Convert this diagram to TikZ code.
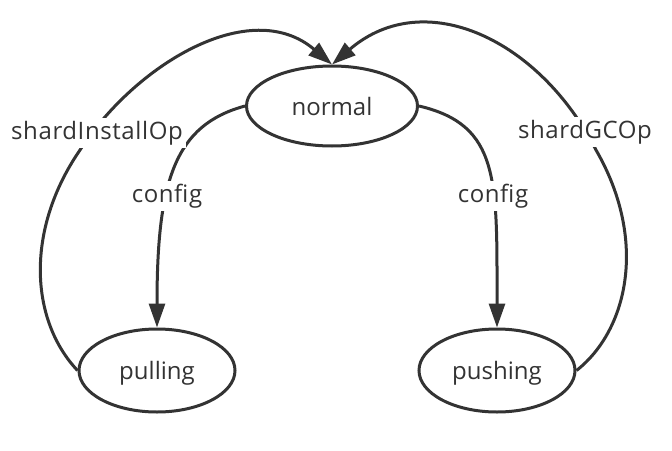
\documentclass[tikz,border=0pt]{standalone}
\usepackage{fontspec}
\setmainfont{Open Sans}
\usetikzlibrary{shapes.geometric,arrows.meta}
\definecolor{ink}{HTML}{333333}
\tikzset{
  state/.style={ellipse, draw=ink, line width=3pt, inner sep=0pt, text=ink,
    font=\fontsize{24}{28}\selectfont, text height=18pt, text depth=0pt},
  lbl/.style={fill=white, text=ink, inner sep=3pt,
    font=\fontsize{24}{28}\selectfont\addfontfeature{LetterSpace=2.5}},
  conn/.style={draw=ink, line width=3pt, -{Triangle[length=24pt,width=16pt]}}
}
\begin{document}
\begin{tikzpicture}[x=1pt,y=-1pt]
\useasboundingbox (0,0) rectangle (672,450);
\node[state, minimum width=171pt, minimum height=80pt] (normal) at (332,106) {normal};
\node[state, minimum width=156pt, minimum height=83pt] (pulling) at (157,370.5) {pulling};
\node[state, minimum width=156pt, minimum height=83pt] (pushing) at (497,370.5) {pushing};
\coordinate (li) at (80,150);
\coordinate (ri) at (596,150);
\draw[conn] (normal.west) .. controls (175,125) and (157,180) .. (pulling.north);
\draw[conn] (normal.east) .. controls (500,125) and (497,180) .. (pushing.north);
\draw[conn] (pulling.west) .. controls (30,320) and (25,230) .. (li)
  .. controls (135,65) and (250,-5) .. (normal.north);
\draw[conn] (pushing.east) .. controls (628,330) and (648,240) .. (ri)
  .. controls (540,40) and (425,-15) .. (normal.north);
\node[lbl, anchor=base] (l1) at (97,139) {shardInstallOp};
\node[lbl, anchor=base] (l2) at (585,138) {shardGCOp};
\node[lbl, anchor=base] (l3) at (167,202) {config};
\node[lbl, anchor=base] (l4) at (493,202) {config};
\end{tikzpicture}
\end{document}
